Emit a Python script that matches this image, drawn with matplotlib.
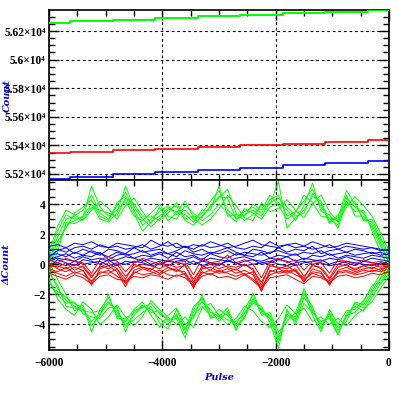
import numpy as np
import matplotlib
matplotlib.use("Agg")
import matplotlib.pyplot as plt
from matplotlib.ticker import MultipleLocator, FixedLocator, FixedFormatter

# ---------------- data ----------------
pulse = list(range(-6000, 1, 150))

top_pulse = [-6000, -5250, -4500, -3750, -3000, -2250, -1500, -750, 0]
top_green = [56256, 56268, 56279, 56290, 56302, 56313, 56325, 56336, 56347]
top_red = [55344, 55355, 55367, 55378, 55390, 55401, 55412, 55424, 55435]
top_blue = [55165, 55181, 55197, 55212, 55228, 55244, 55260, 55275, 55291]

green_upper = [
    [0.2,1.8,3.0,3.2,3.6,4.6,3.4,3.0,3.9,4.8,3.6,2.6,3.0,3.5,3.9,3.3,3.6,3.0,3.4,4.2,4.9,3.6,3.1,3.5,3.8,3.4,4.3,4.6,3.2,3.5,4.2,5.0,3.8,3.0,2.6,4.4,3.8,3.4,2.4,1.2,0.3],
    [-0.3,1.2,2.6,2.9,3.2,4.0,3.0,2.8,3.4,5.2,3.8,3.0,2.5,3.0,3.6,3.9,2.9,2.6,3.2,3.8,4.4,5.0,3.4,2.9,3.3,3.9,4.0,5.5,2.4,3.1,3.6,4.5,4.2,2.8,3.1,4.9,4.0,3.0,2.8,1.6,0.5],
    [0.5,2.2,3.3,3.0,3.1,5.2,3.8,3.2,3.6,4.2,3.2,2.9,3.4,4.0,3.2,3.0,3.9,3.4,2.9,3.3,4.0,3.4,2.8,3.7,3.4,3.0,3.8,4.1,3.6,2.9,3.9,5.4,3.5,3.3,2.4,4.2,3.5,3.6,2.2,0.8,-0.2],
    [0.0,1.5,2.4,3.4,3.8,4.3,3.2,2.9,4.1,4.5,3.4,2.2,2.8,3.2,3.7,3.5,3.3,2.8,3.6,3.6,5.2,3.2,3.3,3.2,4.0,3.6,4.6,3.9,3.0,3.4,4.6,4.1,3.2,3.1,2.9,4.6,3.2,3.2,2.6,1.4,0.1],
    [-0.5,0.8,2.8,2.7,3.0,3.8,3.6,3.4,3.2,4.4,4.0,3.2,3.2,2.9,3.4,4.1,3.0,3.2,3.1,3.9,4.5,4.4,3.0,3.3,3.6,3.2,4.1,4.4,3.8,3.2,3.4,4.7,4.0,2.7,3.3,4.0,4.2,2.9,3.0,1.8,0.6],
    [0.8,2.5,3.6,3.3,2.9,3.6,4.2,3.7,3.0,3.9,4.4,3.5,2.7,3.8,2.9,3.4,4.2,3.1,2.6,3.0,3.7,4.6,3.9,3.1,2.9,4.1,3.5,3.7,4.3,3.6,3.1,4.0,4.6,3.5,2.8,3.8,4.5,3.9,3.2,2.1,0.9],
]
green_lower = [
    [-0.4,-1.6,-2.4,-2.8,-3.0,-3.8,-3.3,-2.6,-3.0,-4.2,-3.4,-2.8,-3.0,-3.6,-4.0,-3.3,-4.6,-3.0,-2.2,-3.2,-3.5,-2.9,-4.3,-3.5,-2.4,-3.0,-3.6,-5.2,-3.3,-3.8,-2.2,-3.0,-4.2,-3.3,-4.4,-3.5,-2.6,-2.9,-2.0,-1.0,-0.3],
    [0.2,-1.0,-2.0,-3.1,-2.7,-4.5,-3.0,-2.2,-3.4,-3.8,-3.0,-2.5,-3.4,-4.2,-3.4,-2.9,-4.0,-3.6,-2.0,-3.6,-3.0,-3.4,-4.0,-3.0,-2.0,-3.4,-3.2,-4.5,-3.8,-3.2,-1.8,-3.4,-4.5,-3.0,-4.0,-3.1,-3.0,-2.4,-1.6,-0.6,0.1],
    [-1.2,-2.0,-2.6,-2.5,-3.3,-3.5,-3.6,-2.9,-2.8,-4.5,-3.1,-2.9,-2.6,-3.3,-3.7,-3.6,-4.9,-3.2,-2.5,-3.0,-3.8,-3.1,-4.4,-3.2,-2.6,-2.8,-3.9,-5.6,-3.0,-4.0,-2.6,-3.2,-3.8,-3.6,-4.7,-3.3,-2.8,-3.1,-2.2,-1.3,-0.6],
    [-0.6,-1.4,-2.8,-2.9,-3.1,-3.2,-3.1,-2.5,-3.2,-4.0,-3.7,-3.2,-2.8,-3.9,-4.3,-3.0,-4.3,-3.4,-2.8,-3.4,-3.3,-3.7,-3.8,-3.3,-2.3,-3.1,-3.4,-4.8,-3.5,-3.5,-2.0,-2.8,-4.3,-3.2,-4.2,-3.8,-2.5,-2.7,-1.8,-0.9,0.0],
    [-1.5,-1.8,-2.2,-2.6,-2.9,-4.1,-3.4,-2.0,-3.6,-3.6,-3.2,-2.7,-3.2,-3.1,-3.8,-3.4,-4.4,-2.8,-2.3,-3.5,-3.6,-3.2,-4.1,-3.6,-1.9,-3.2,-3.6,-5.0,-3.1,-3.7,-1.6,-3.1,-4.0,-3.4,-4.6,-3.4,-3.2,-2.5,-1.4,-1.2,-0.4],
    [-0.9,-2.3,-3.0,-3.4,-2.5,-3.0,-4.0,-3.5,-2.7,-3.5,-4.1,-3.5,-2.4,-3.0,-3.5,-4.0,-3.5,-4.2,-2.9,-2.6,-3.4,-4.0,-3.6,-2.8,-3.1,-3.8,-4.2,-3.6,-2.7,-3.3,-2.9,-3.8,-3.5,-4.0,-3.6,-4.1,-3.4,-3.0,-2.5,-1.6,-0.8],
]
blue_lines = [
    [0.9,1.0,0.8,1.1,1.2,1.0,1.3,1.1,1.2,1.0,1.1,1.3,1.0,1.2,1.5,1.1,1.2,1.0,1.3,1.1,1.2,1.4,1.1,1.0,1.2,1.1,1.5,1.2,1.3,1.1,1.2,1.0,1.1,1.3,1.0,1.2,1.1,1.0,1.1,0.9,1.0],
    [0.6,0.7,0.5,0.8,0.6,0.9,0.7,0.5,0.8,0.6,0.7,0.9,0.6,0.8,0.7,0.5,0.9,0.7,0.6,0.8,0.7,0.9,0.6,0.8,0.7,0.6,0.8,0.9,0.7,0.6,0.8,0.7,0.9,0.6,0.7,0.8,0.6,0.7,0.8,0.6,0.7],
    [0.2,0.4,0.3,0.2,0.5,0.3,0.4,0.2,0.3,0.5,0.4,0.2,0.4,0.3,0.2,0.4,0.3,0.5,0.2,0.4,0.3,0.2,0.4,0.5,0.3,0.2,0.4,0.3,0.5,0.2,0.4,0.3,0.2,0.4,0.3,0.5,0.3,0.2,0.4,0.3,0.2],
    [1.2,1.3,1.1,1.4,1.3,1.5,1.2,1.1,1.4,1.3,1.2,1.1,1.6,1.3,1.2,1.4,1.1,1.3,1.2,1.5,1.3,1.1,1.2,1.4,1.6,1.3,1.2,1.1,1.3,1.4,1.2,1.5,1.3,1.1,1.2,1.4,1.3,1.2,1.1,1.0,0.9],
    [0.0,0.1,-0.1,0.2,0.0,0.1,0.2,-0.1,0.1,0.0,0.2,0.1,-0.1,0.0,0.2,0.1,0.0,0.2,-0.1,0.1,0.0,0.2,0.1,-0.1,0.0,0.1,0.2,0.0,-0.1,0.1,0.2,0.0,0.1,-0.1,0.0,0.2,0.1,0.0,-0.1,0.1,0.0],
    [0.5,0.9,1.1,0.7,1.0,0.8,0.6,1.0,0.9,0.7,1.1,0.8,0.9,1.0,0.7,0.9,1.2,0.8,1.0,0.7,0.9,1.1,0.8,0.6,1.0,0.9,0.7,1.1,0.8,1.0,0.9,1.2,0.7,0.9,1.0,0.8,1.0,0.9,0.7,0.8,0.6],
    [0.3,0.5,0.7,0.4,0.6,0.5,0.8,0.3,0.6,0.7,0.4,0.6,0.5,0.7,0.4,0.8,0.5,0.6,0.3,0.7,0.5,0.4,0.7,0.6,0.5,0.8,0.4,0.6,0.5,0.7,0.3,0.6,0.5,0.7,0.4,0.6,0.5,0.4,0.6,0.5,0.4],
    [-0.2,0.3,0.1,-0.1,0.3,0.2,0.0,0.3,-0.1,0.2,0.1,0.3,0.0,0.2,-0.1,0.2,0.3,0.0,0.2,0.1,-0.1,0.3,0.0,0.2,0.3,0.0,0.1,0.3,0.2,-0.1,0.1,0.2,0.3,0.0,0.2,0.1,-0.1,0.2,0.1,0.0,0.2],
]
red_lines = [
    [0.1,-0.3,-0.5,-0.2,-0.4,-1.4,-0.3,-0.1,-0.5,-1.5,-0.4,-0.2,-0.3,-0.6,-0.2,-0.4,-0.5,-1.6,-0.3,-0.2,-0.5,-0.3,-0.6,-0.4,-0.7,-1.8,-0.5,-0.3,-0.6,-0.4,-1.2,-0.3,-0.5,-1.4,-0.4,-0.2,-0.5,-0.3,-0.2,-0.4,-0.1],
    [-0.4,-0.6,-0.8,-0.5,-0.7,-1.1,-0.6,-0.4,-0.8,-1.2,-0.5,-0.7,-0.6,-0.4,-0.7,-0.8,-0.6,-1.3,-0.5,-0.7,-0.4,-0.6,-0.8,-0.6,-1.0,-1.5,-0.7,-0.5,-0.4,-0.7,-1.0,-0.6,-0.8,-1.1,-0.6,-0.5,-0.7,-0.6,-0.4,-0.5,-0.3],
    [0.3,0.1,0.4,0.2,0.1,-0.6,0.3,0.5,0.2,-0.5,0.1,0.4,0.2,0.0,0.3,0.1,0.2,-0.7,0.4,0.1,0.2,0.6,0.1,0.3,0.0,-0.9,0.2,0.4,0.1,0.3,-0.4,0.2,0.1,-0.6,0.3,0.2,0.0,0.3,0.1,0.2,0.0],
    [-0.2,-0.1,-0.3,0.0,-0.2,-0.9,-0.1,-0.3,0.0,-0.8,-0.2,0.0,-0.1,-0.3,0.0,-0.2,-0.1,-1.0,-0.2,0.0,-0.3,-0.1,-0.2,0.0,-0.4,-1.2,-0.1,-0.2,-0.3,0.0,-0.8,-0.1,-0.2,-0.9,0.0,-0.1,-0.3,-0.1,0.0,-0.2,-0.1],
    [-0.6,-0.8,-1.0,-0.7,-0.9,-1.3,-0.8,-0.7,-1.0,-1.1,-0.8,-0.9,-0.7,-0.8,-1.0,-0.7,-0.9,-1.4,-0.8,-0.6,-0.9,-0.8,-1.0,-0.7,-1.1,-1.6,-0.9,-0.8,-0.7,-1.0,-1.3,-0.8,-0.9,-1.2,-0.8,-0.7,-0.9,-0.8,-0.6,-0.7,-0.5],
    [0.0,-0.2,0.1,-0.4,-0.1,-0.8,-0.2,0.1,-0.3,-1.0,0.0,-0.2,-0.4,0.1,-0.2,-0.5,0.0,-1.2,-0.1,-0.4,0.1,-0.2,-0.4,0.0,-0.3,-1.4,0.0,-0.3,-0.1,-0.5,-0.9,0.0,-0.3,-1.0,-0.2,0.0,-0.4,-0.1,-0.3,0.0,-0.2],
    [-0.3,-0.5,-0.2,-0.6,-0.4,-1.2,-0.5,-0.6,-0.3,-1.3,-0.6,-0.3,-0.5,-0.7,-0.4,-0.3,-0.7,-1.5,-0.6,-0.4,-0.6,-0.5,-0.3,-0.7,-0.5,-1.7,-0.4,-0.6,-0.5,-0.3,-1.1,-0.5,-0.6,-1.3,-0.5,-0.4,-0.6,-0.4,-0.5,-0.3,-0.2],
]

top_yticks = [55200, 55400, 55600, 55800, 56000, 56200]
top_ylabels = ["5.52×10⁴", "5.54×10⁴", "5.56×10⁴", "5.58×10⁴", "5.6×10⁴", "5.62×10⁴"]
bot_yticks = [-4, -2, 0, 2, 4]
xticks = [-6000, -4000, -2000, 0]

# ---------------- style ----------------
GREEN = "#00ff00"
RED = "#ff0000"
BLUE = "#0000ff"
TICKFONT = ["Liberation Serif", "DejaVu Serif"]
LABFONT = ["DejaVu Serif"]
fs = 8.3
lfs = 7

fig = plt.figure(figsize=(3.99, 3.99), dpi=100)
L, W = 49 / 399, 340 / 399
ax1 = fig.add_axes([L, (399 - 180) / 399, W, 170 / 399])
ax2 = fig.add_axes([L, (399 - 350) / 399, W, 170 / 399])

for ax in (ax1, ax2):
    ax.set_xlim(-6000, 0)
    ax.xaxis.set_major_locator(FixedLocator(xticks))
    ax.xaxis.set_minor_locator(MultipleLocator(500))
    ax.tick_params(which="both", direction="in", top=True, right=True,
                   colors="black", width=1.0)
    ax.tick_params(axis="y", pad=2.5)
    ax.tick_params(axis="x", pad=5)
    ax.tick_params(which="major", length=7)
    ax.tick_params(which="minor", length=4)
    for s in ax.spines.values():
        s.set_linewidth(1.2)
    ax.grid(True, which="major", color="black", linestyle=(0, (2.5, 2.5)),
            linewidth=0.8)
    ax.set_axisbelow(False)

# top panel
ax1.plot(top_pulse, top_green, color=GREEN, lw=1.4, drawstyle="steps-mid", zorder=3)
ax1.plot(top_pulse, top_red, color=RED, lw=1.2, drawstyle="steps-mid", zorder=3)
ax1.plot(top_pulse, top_blue, color=BLUE, lw=1.2, drawstyle="steps-mid", zorder=3)
ax1.set_ylim(55158, 56347)
ax1.yaxis.set_major_locator(FixedLocator(top_yticks))
ax1.yaxis.set_major_formatter(FixedFormatter(top_ylabels))
ax1.yaxis.set_minor_locator(MultipleLocator(50))
ax1.tick_params(labelbottom=False)
ax1.set_ylabel("Count", color=BLUE, fontsize=lfs, family=LABFONT,
               fontweight="bold", fontstyle="italic")
ax1.yaxis.set_label_coords(-0.11, 0.5)

# bottom panel
for ys in green_upper + green_lower:
    ax2.plot(pulse, ys, color=GREEN, lw=0.7, zorder=3)
for ys in blue_lines:
    ax2.plot(pulse, ys, color=BLUE, lw=0.7, zorder=3)
for ys in red_lines:
    ax2.plot(pulse, ys, color=RED, lw=0.7, zorder=3)
ax2.set_ylim(-5.7, 5.6)
ax2.yaxis.set_major_locator(FixedLocator(bot_yticks))
ax2.yaxis.set_minor_locator(MultipleLocator(0.5))
ax2.set_ylabel("ΔCount", color=BLUE, fontsize=lfs, family=LABFONT,
               fontweight="bold", fontstyle="italic")
ax2.yaxis.set_label_coords(-0.11, 0.5)
ax2.set_xlabel("Pulse", color=BLUE, fontsize=lfs, family=LABFONT,
               fontweight="bold", fontstyle="italic", labelpad=3)

for ax in (ax1, ax2):
    for lab in ax.get_xticklabels() + ax.get_yticklabels():
        lab.set_family(TICKFONT)
        lab.set_fontweight("bold")
        lab.set_fontsize(fs)

fig.savefig("out.png", dpi=100)
